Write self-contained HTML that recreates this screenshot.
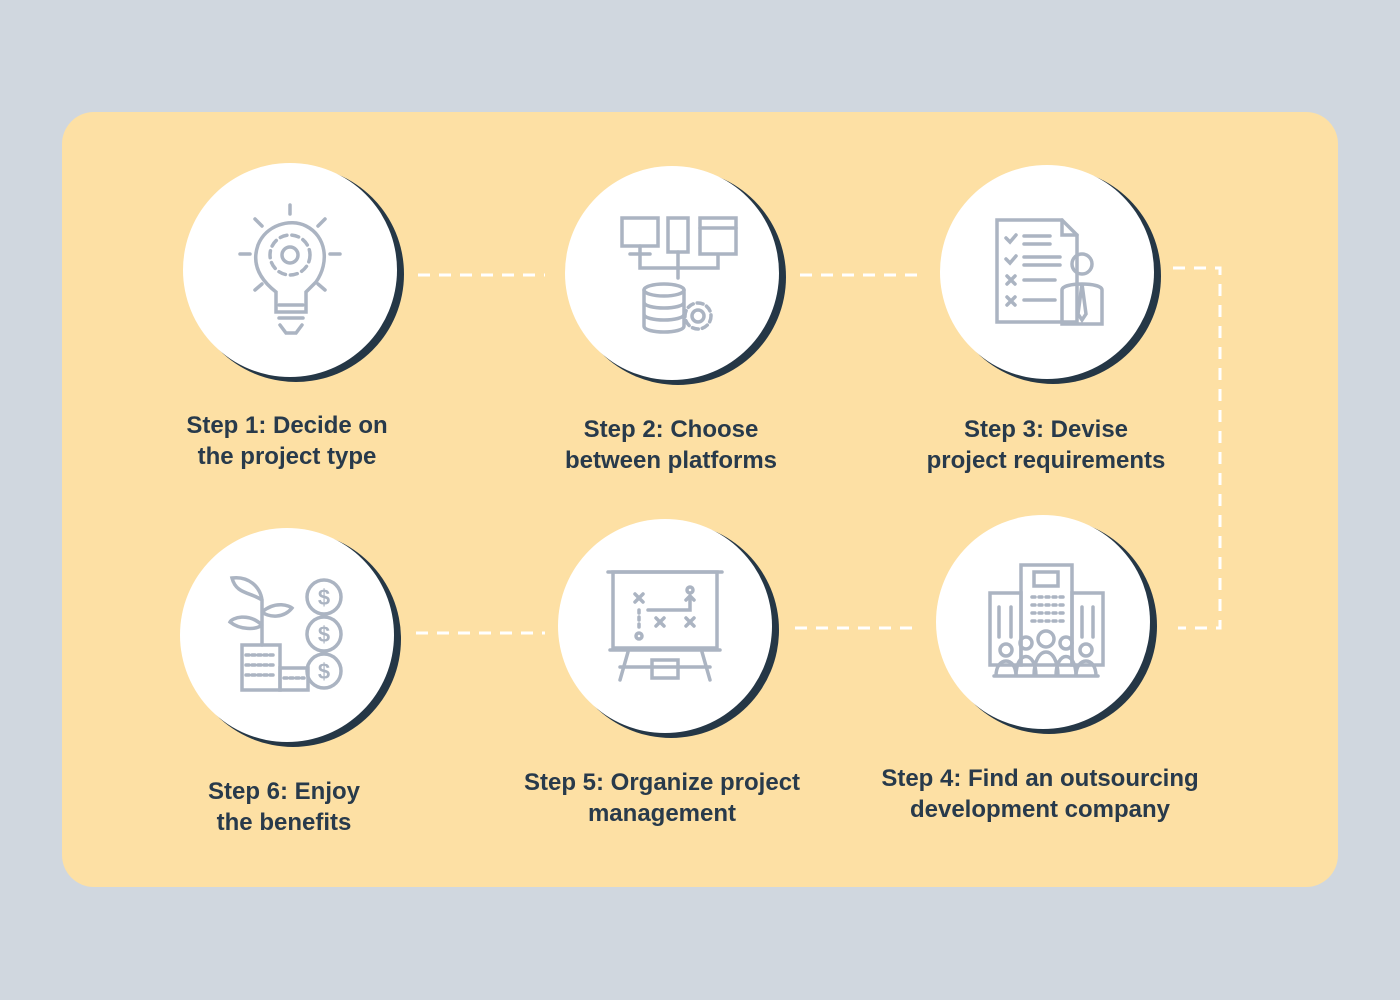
<!DOCTYPE html>
<html><head><meta charset="utf-8"><style>
body{margin:0;width:1400px;height:1000px;background:#d0d7df;position:relative;overflow:hidden;font-family:"Liberation Sans",sans-serif}
.card{position:absolute;left:62px;top:112px;width:1276px;height:775px;background:#fde0a4;border-radius:32px}
.lbl{position:absolute;width:360px;text-align:center;color:#283a4b;font-weight:bold;font-size:24px;line-height:31px}
svg{position:absolute;left:0;top:0}
</style></head><body>
<div class="card"></div>
<svg width="1400" height="1000">
<g stroke="#fff" stroke-width="3" stroke-dasharray="12,9" fill="none">
<line x1="418" y1="275" x2="545" y2="275"/>
<line x1="800" y1="275" x2="925" y2="275"/>
<polyline points="1173,268 1220,268 1220,628 1178,628"/>
<line x1="795" y1="628" x2="920" y2="628"/>
<line x1="416" y1="633" x2="545" y2="633"/>
</g>
<g>
<circle cx="296" cy="274" r="108" fill="#253746"/><circle cx="290" cy="270" r="107" fill="#fff"/>
<circle cx="678" cy="277" r="108" fill="#253746"/><circle cx="672" cy="273" r="107" fill="#fff"/>
<circle cx="1053" cy="276" r="108" fill="#253746"/><circle cx="1047" cy="272" r="107" fill="#fff"/>
<circle cx="1049" cy="626" r="108" fill="#253746"/><circle cx="1043" cy="622" r="107" fill="#fff"/>
<circle cx="671" cy="630" r="108" fill="#253746"/><circle cx="665" cy="626" r="107" fill="#fff"/>
<circle cx="293" cy="639" r="108" fill="#253746"/><circle cx="287" cy="635" r="107" fill="#fff"/>
</g>
<g stroke="#abb4c2" stroke-width="3.5" fill="none" stroke-linecap="round">
<!-- bulb -->
<path d="M276,292 C258,278 252,262 258,245 C266,225 290,218 306,226 C326,236 330,262 316,282 L306,292 L306,312 L276,312 Z"/>
<circle cx="290" cy="255" r="8"/><circle cx="290" cy="255" r="20" stroke-dasharray="7,5"/>
<line x1="279" y1="305" x2="303" y2="305"/><line x1="279" y1="318" x2="303" y2="318"/><path d="M280,325 L286,333 L296,333 L302,325"/>
<line x1="290" y1="205" x2="290" y2="214"/><line x1="255" y1="219" x2="262" y2="226"/><line x1="325" y1="219" x2="318" y2="226"/>
<line x1="240" y1="254" x2="250" y2="254"/><line x1="330" y1="254" x2="340" y2="254"/><line x1="255" y1="290" x2="262" y2="284"/><line x1="325" y1="290" x2="318" y2="284"/>
<!-- platforms -->
<rect x="622" y="218" width="36" height="28"/><line x1="640" y1="246" x2="640" y2="254"/><line x1="630" y1="254" x2="650" y2="254"/>
<rect x="668" y="218" width="20" height="34"/><rect x="700" y="218" width="36" height="36"/><line x1="700" y1="228" x2="736" y2="228"/>
<path d="M640,256 L640,268 L718,268 L718,256 M678,252 L678,278"/>
<ellipse cx="664" cy="290" rx="20" ry="6"/><path d="M644,290 L644,326 C644,334 684,334 684,326 L684,290 M644,302 C644,310 684,310 684,302 M644,314 C644,322 684,322 684,314"/>
<circle cx="698" cy="316" r="6"/><circle cx="698" cy="316" r="13" stroke-dasharray="6,4"/>
<!-- requirements -->
<path d="M997,220 L1062,220 L1077,235 L1077,322 L997,322 Z"/><path d="M1062,220 L1062,235 L1077,235"/>
<path d="M1006,238 l4,4 l6,-7 M1006,259 l4,4 l6,-7 M1007,276 l8,8 M1015,276 l-8,8 M1007,297 l8,8 M1015,297 l-8,8"/>
<line x1="1024" y1="236" x2="1050" y2="236"/><line x1="1024" y1="244" x2="1050" y2="244"/><line x1="1024" y1="257" x2="1060" y2="257"/><line x1="1024" y1="265" x2="1060" y2="265"/>
<line x1="1024" y1="280" x2="1055" y2="280"/><line x1="1024" y1="300" x2="1055" y2="300"/>
<circle cx="1082" cy="264" r="10"/><path d="M1062,324 L1062,290 C1062,282 1102,282 1102,290 L1102,324 Z M1082,284 L1078,314 L1082,320 L1086,314 Z"/>
<!-- company -->
<rect x="1021" y="565" width="51" height="100"/><rect x="1034" y="572" width="24" height="14"/>
<rect x="990" y="593" width="31" height="72"/><rect x="1072" y="593" width="31" height="72"/>
<line x1="999" y1="607" x2="999" y2="637"/><line x1="1011" y1="607" x2="1011" y2="637"/><line x1="1082" y1="607" x2="1082" y2="637"/><line x1="1093" y1="607" x2="1093" y2="637"/>
<g stroke-dasharray="3,4"><line x1="1032" y1="597" x2="1064" y2="597"/><line x1="1032" y1="605" x2="1064" y2="605"/><line x1="1032" y1="613" x2="1064" y2="613"/><line x1="1032" y1="621" x2="1064" y2="621"/></g>
<circle cx="1006" cy="650" r="6"/><circle cx="1026" cy="643" r="6"/><circle cx="1046" cy="639" r="8"/><circle cx="1066" cy="643" r="6"/><circle cx="1086" cy="650" r="6"/>
<path d="M996,676 C996,656 1016,656 1016,676 M1016,676 C1016,650 1036,650 1036,676 M1034,676 C1034,644 1058,644 1058,676 M1056,676 C1056,650 1076,650 1076,676 M1076,676 C1076,656 1096,656 1096,676 M994,676 L1098,676"/>
<!-- board -->
<rect x="613" y="572" width="104" height="76"/><line x1="608" y1="572" x2="722" y2="572"/><line x1="610" y1="650" x2="720" y2="650"/>
<path d="M628,652 L620,680 M702,652 L710,680 M652,660 L678,660 L678,678 L652,678 Z M620,667 L710,667"/>
<path d="M635,594 l8,8 M643,594 l-8,8 M656,618 l8,8 M664,618 l-8,8 M686,618 l8,8 M694,618 l-8,8"/>
<path d="M639,610 L639,628" stroke-dasharray="3,4"/><circle cx="639" cy="636" r="3"/><path d="M648,610 L690,610 L690,596 M686,600 l4,-4 l4,4"/><circle cx="690" cy="590" r="3"/>
<!-- benefits -->
<circle cx="324" cy="597" r="17"/><circle cx="324" cy="634" r="17"/><circle cx="324" cy="671" r="17"/>
<rect x="242" y="645" width="38" height="45"/><rect x="280" y="668" width="28" height="22"/>
<g stroke-dasharray="3,3"><line x1="246" y1="655" x2="276" y2="655"/><line x1="246" y1="665" x2="276" y2="665"/><line x1="246" y1="675" x2="276" y2="675"/><line x1="284" y1="678" x2="304" y2="678"/></g>
<path d="M262,645 L262,600 M262,625 C248,612 232,618 230,622 C240,630 256,630 262,625 M262,612 C276,600 290,606 292,608 C284,618 270,618 262,612 M262,600 C250,592 236,594 232,578 C248,576 260,586 262,600"/>
</g>
<g fill="#abb4c2" font-family="Liberation Sans" font-weight="bold" font-size="22" text-anchor="middle">
<text x="324" y="605">$</text><text x="324" y="642">$</text><text x="324" y="679">$</text>
</g>
</svg>
<div class="lbl" style="left:107px;top:410px">Step 1: Decide on<br>the project type</div>
<div class="lbl" style="left:491px;top:414px">Step 2: Choose<br>between platforms</div>
<div class="lbl" style="left:866px;top:414px">Step 3: Devise<br>project requirements</div>
<div class="lbl" style="left:840px;top:763px;width:400px">Step 4: Find an outsourcing<br>development company</div>
<div class="lbl" style="left:462px;top:767px;width:400px">Step 5: Organize project<br>management</div>
<div class="lbl" style="left:104px;top:776px">Step 6: Enjoy<br>the benefits</div>
</body></html>
